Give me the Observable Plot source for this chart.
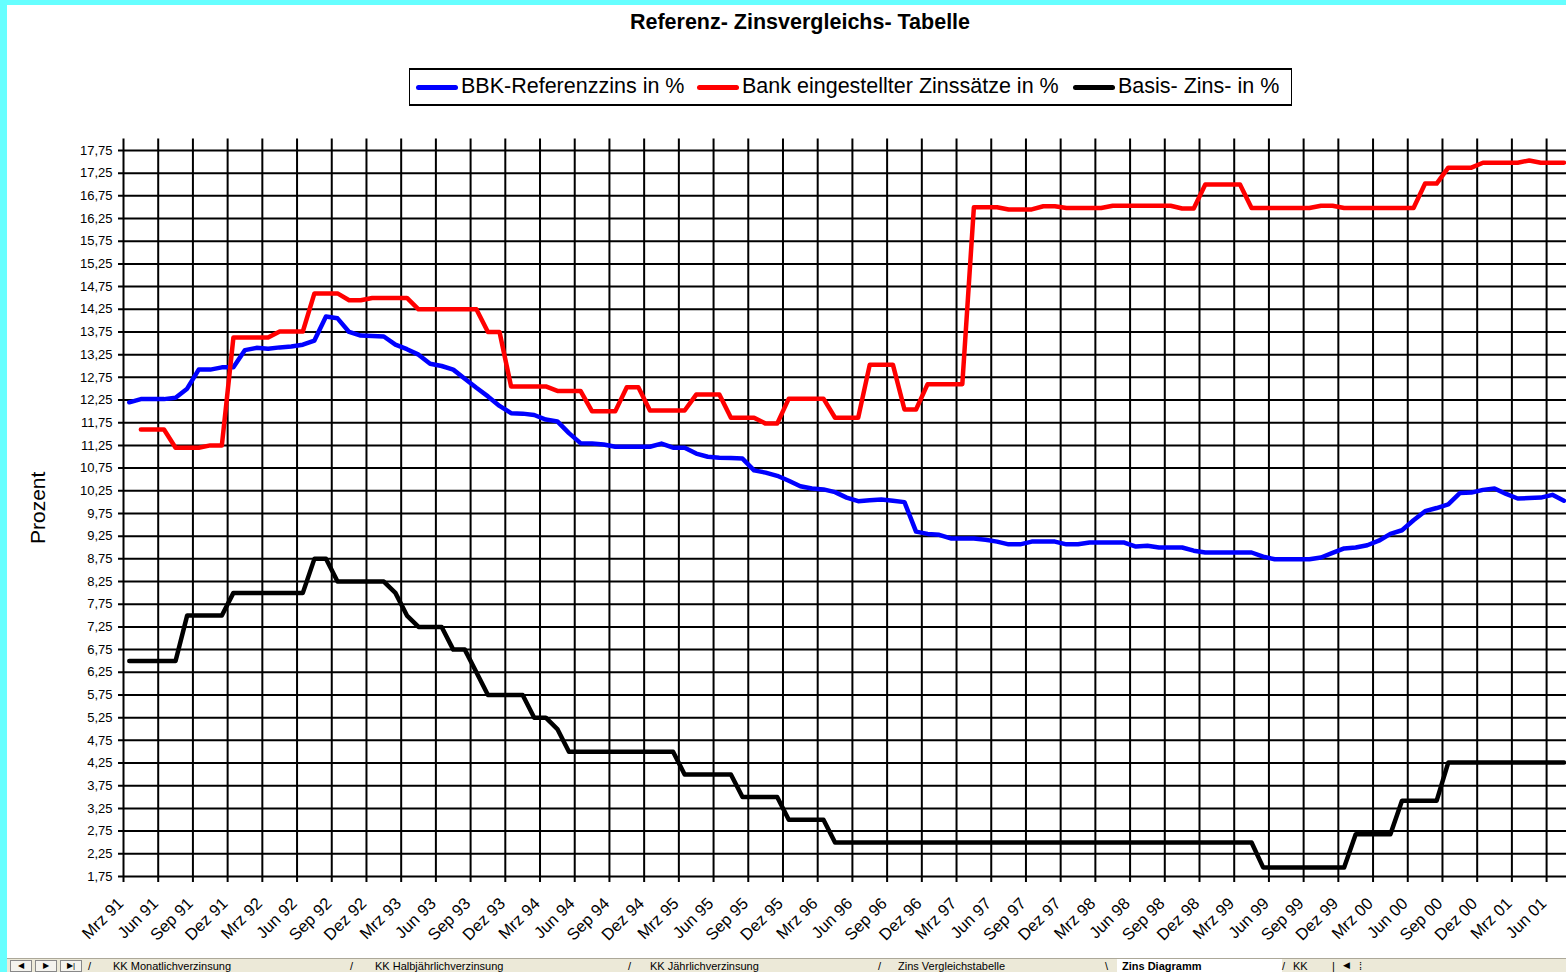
<!DOCTYPE html>
<html>
<head>
<meta charset="utf-8">
<script src="https://cdn.jsdelivr.net/npm/d3@7"></script>
<script src="https://cdn.jsdelivr.net/npm/@observablehq/plot@0.6"></script>
<style>
  html, body { margin: 0; padding: 0; width: 1566px; height: 972px; overflow: hidden; background: #66ffff; }
  body { position: relative; font-family: "Liberation Sans", Arial, sans-serif; }
  #sheet { position: absolute; left: 7px; top: 5px; width: 1559px; height: 967px; background: #fff; }
  #title { position: absolute; left: 500px; width: 600px; top: 12px; text-align: center; font-weight: bold; font-size: 21.5px; line-height: 1; color: #000; }
  #legend { position: absolute; left: 409px; top: 68px; width: 883px; height: 38px; box-sizing: border-box; border: 1px solid #000; border-top-width: 2px; border-bottom-width: 2px; background: #fff; }
  .li { position: absolute; top: 5.5px; font-size: 21.5px; line-height: 1; white-space: nowrap; color: #000; }
  .sw { position: absolute; top: 15px; width: 42px; height: 5px; border-radius: 2.5px; }
  #chart { position: absolute; left: 7px; top: 130px; }
  #tabs { position: absolute; left: 7px; top: 958px; width: 1559px; height: 14px; background: #ece9d8; border-top: 1px solid #aca899; overflow: hidden; font-size: 11px; line-height: 1; color: #000; }
  #tabs span { position: absolute; top: 1.5px; white-space: nowrap; }
  .nav { position: absolute; top: 1px; width: 22px; height: 12px; border: 1px solid #888; background: #f4f3ee; box-sizing: border-box; font-size: 8px; line-height: 10px; text-align: center; }
</style>
</head>
<body>
<div id="sheet"></div>
<div id="title">Referenz- Zinsvergleichs- Tabelle</div>
<div id="legend"></div>
<div id="chart"></div>
<div id="tabs">
  <div class="nav" style="left:3px">&#9664;</div>
  <div class="nav" style="left:28px">&#9654;</div>
  <div class="nav" style="left:53px">&#9654;|</div>
  <span style="left:81px">/</span>
  <span style="left:106px">KK Monatlichverzinsung</span>
  <span style="left:343px">/</span>
  <span style="left:368px">KK Halbjährlichverzinsung</span>
  <span style="left:621px">/</span>
  <span style="left:643px">KK Jährlichverzinsung</span>
  <span style="left:871px">/</span>
  <span style="left:891px">Zins Vergleichstabelle</span>
  <span style="left:1098px">\</span>
  <span style="left:1110px;width:165px;height:20px;background:#fff;top:0"></span>
  <span style="left:1115px;font-weight:bold">Zins Diagramm</span>
  <span style="left:1275px">/</span>
  <span style="left:1286px">KK</span>
  <span style="left:1325px">|</span>
  <span style="left:1336px;font-size:9px">&#9664;</span>
  <span style="left:1352px">&#8286;</span>
</div>
<script>
// ---- Data (monthly, starting Mrz 91) ----
const xTickLabels = [
  "Mrz 91","Jun 91","Sep 91","Dez 91",
  "Mrz 92","Jun 92","Sep 92","Dez 92",
  "Mrz 93","Jun 93","Sep 93","Dez 93",
  "Mrz 94","Jun 94","Sep 94","Dez 94",
  "Mrz 95","Jun 95","Sep 95","Dez 95",
  "Mrz 96","Jun 96","Sep 96","Dez 96",
  "Mrz 97","Jun 97","Sep 97","Dez 97",
  "Mrz 98","Jun 98","Sep 98","Dez 98",
  "Mrz 99","Jun 99","Sep 99","Dez 99",
  "Mrz 00","Jun 00","Sep 00","Dez 00",
  "Mrz 01","Jun 01"
];
const xTickMonths = [0,3,6,9,12,15,18,21,24,27,30,33,36,39,42,45,48,51,54,57,60,63,66,69,72,75,78,81,84,87,90,93,96,99,102,105,108,111,114,117,120,123];
const yTicks = [1.75,2.25,2.75,3.25,3.75,4.25,4.75,5.25,5.75,6.25,6.75,7.25,7.75,8.25,8.75,9.25,9.75,10.25,10.75,11.25,11.75,12.25,12.75,13.25,13.75,14.25,14.75,15.25,15.75,16.25,16.75,17.25,17.75];

const seriesNames = ["BBK-Referenzzins in %", "Bank eingestellter Zinssätze in %", "Basis- Zins- in %"];
const seriesColors = ["#0000ff", "#ff0000", "#000000"];

const bbk = [
  12.20,12.27,12.27,12.27,12.30,12.50,12.92,12.92,12.97,12.97,
  13.35,13.40,13.38,13.41,13.43,13.47,13.56,14.09,14.05,13.75,
  13.67,13.66,13.65,13.47,13.37,13.25,13.05,13.00,12.92,12.72,
  12.52,12.33,12.12,11.96,11.95,11.92,11.82,11.78,11.52,11.30,
  11.29,11.27,11.22,11.22,11.22,11.22,11.29,11.20,11.20,11.07,
  11.00,10.98,10.97,10.96,10.70,10.65,10.58,10.47,10.35,10.30,
  10.28,10.22,10.10,10.02,10.04,10.06,10.03,10.00,9.35,9.30,
  9.28,9.20,9.20,9.20,9.17,9.13,9.07,9.07,9.13,9.13,
  9.13,9.07,9.07,9.11,9.11,9.11,9.11,9.02,9.04,9.00,
  9.00,9.00,8.93,8.89,8.89,8.89,8.89,8.89,8.80,8.74,
  8.74,8.74,8.74,8.78,8.88,8.98,9.00,9.05,9.15,9.30,
  9.38,9.60,9.80,9.87,9.95,10.20,10.21,10.27,10.30,10.18,
  10.08,10.09,10.10,10.16,10.03
];
const bank = [
  null,11.60,11.60,11.60,11.20,11.20,11.20,11.25,11.25,13.63,
  13.63,13.63,13.63,13.76,13.76,13.76,14.60,14.60,14.60,14.45,
  14.45,14.50,14.50,14.50,14.50,14.25,14.25,14.25,14.25,14.25,
  14.25,13.75,13.75,12.55,12.55,12.55,12.55,12.45,12.45,12.45,
  12.00,12.00,12.00,12.53,12.53,12.02,12.02,12.02,12.02,12.37,
  12.37,12.37,11.86,11.86,11.86,11.73,11.73,12.28,12.28,12.28,
  12.28,11.86,11.86,11.86,13.03,13.03,13.03,12.04,12.04,12.60,
  12.60,12.60,12.60,16.50,16.50,16.50,16.45,16.45,16.45,16.52,
  16.52,16.48,16.48,16.48,16.48,16.53,16.53,16.53,16.53,16.53,
  16.53,16.47,16.47,17.00,17.00,17.00,17.00,16.48,16.48,16.48,
  16.48,16.48,16.48,16.53,16.53,16.48,16.48,16.48,16.48,16.48,
  16.48,16.48,17.02,17.02,17.37,17.37,17.37,17.48,17.48,17.48,
  17.48,17.53,17.48,17.48,17.48
];
const basis = [
  6.50,6.50,6.50,6.50,6.50,7.50,7.50,7.50,7.50,8.00,
  8.00,8.00,8.00,8.00,8.00,8.00,8.75,8.75,8.25,8.25,
  8.25,8.25,8.25,8.00,7.50,7.25,7.25,7.25,6.75,6.75,
  6.25,5.75,5.75,5.75,5.75,5.25,5.25,5.00,4.50,4.50,
  4.50,4.50,4.50,4.50,4.50,4.50,4.50,4.50,4.00,4.00,
  4.00,4.00,4.00,3.50,3.50,3.50,3.50,3.00,3.00,3.00,
  3.00,2.50,2.50,2.50,2.50,2.50,2.50,2.50,2.50,2.50,
  2.50,2.50,2.50,2.50,2.50,2.50,2.50,2.50,2.50,2.50,
  2.50,2.50,2.50,2.50,2.50,2.50,2.50,2.50,2.50,2.50,
  2.50,2.50,2.50,2.50,2.50,2.50,2.50,2.50,1.95,1.95,
  1.95,1.95,1.95,1.95,1.95,1.95,2.68,2.68,2.68,2.68,
  3.42,3.42,3.42,3.42,4.26,4.26,4.26,4.26,4.26,4.26,
  4.26,4.26,4.26,4.26,4.26
];

// ---- Build tables ----
const rows = bbk.map((v, i) => ({t: i + 0.5, bbk: v, bank: bank[i], basis: basis[i]}));
const xTicks = xTickMonths.map((m, i) => ({m, label: xTickLabels[i]}));
const fmtDE = v => d3.format(".2f")(v).replace(".", ",");

// ---- Legend ----
const legend = document.getElementById("legend");
const legendPos = [[6, 51], [287, 332], [663, 708]];
seriesNames.forEach((name, i) => {
  const sw = document.createElement("div");
  sw.className = "sw";
  sw.style.left = legendPos[i][0] + "px";
  sw.style.background = seriesColors[i];
  legend.appendChild(sw);
  const t = document.createElement("div");
  t.className = "li";
  t.style.left = legendPos[i][1] + "px";
  t.textContent = name;
  legend.appendChild(t);
});

// ---- Chart ----
const chart = Plot.plot({
  width: 1559,
  height: 828,
  marginLeft: 116,
  marginRight: 0,
  marginTop: 8.6,
  marginBottom: 82,
  style: {background: "transparent", fontFamily: "'Liberation Sans', Arial, sans-serif", color: "#000"},
  x: {domain: [0, 124.72], axis: null},
  y: {domain: [1.75, 18.0], axis: null},
  marks: [
    Plot.ruleY(yTicks, {y: d => d, stroke: "#000", strokeWidth: 2, insetLeft: -5}),
    Plot.ruleX(xTicks, {x: "m", stroke: "#000", strokeWidth: 2, insetBottom: -6}),
    Plot.text(yTicks, {y: d => d, frameAnchor: "left", dx: -11, text: d => fmtDE(d), textAnchor: "end", lineAnchor: "middle", fontSize: 13, fill: "#000"}),
    Plot.text(xTicks, {x: "m", frameAnchor: "bottom", text: "label", rotate: -45, textAnchor: "end", lineAnchor: "bottom", dy: 28, dx: 1, fontSize: 16.5, fill: "#000"}),
    Plot.text(["Prozent"], {frameAnchor: "left", dx: -85, text: d => d, rotate: -90, textAnchor: "middle", lineAnchor: "middle", fontSize: 21, fill: "#000"}),
    Plot.line(rows, {x: "t", y: "bbk", stroke: seriesColors[0], strokeWidth: 4.5, strokeLinejoin: "round", strokeLinecap: "round"}),
    Plot.line(rows, {x: "t", y: "bank", stroke: seriesColors[1], strokeWidth: 4.5, strokeLinejoin: "round", strokeLinecap: "round"}),
    Plot.line(rows, {x: "t", y: "basis", stroke: seriesColors[2], strokeWidth: 4.5, strokeLinejoin: "round", strokeLinecap: "round"})
  ]
});
document.getElementById("chart").appendChild(chart);
</script>
</body>
</html>
